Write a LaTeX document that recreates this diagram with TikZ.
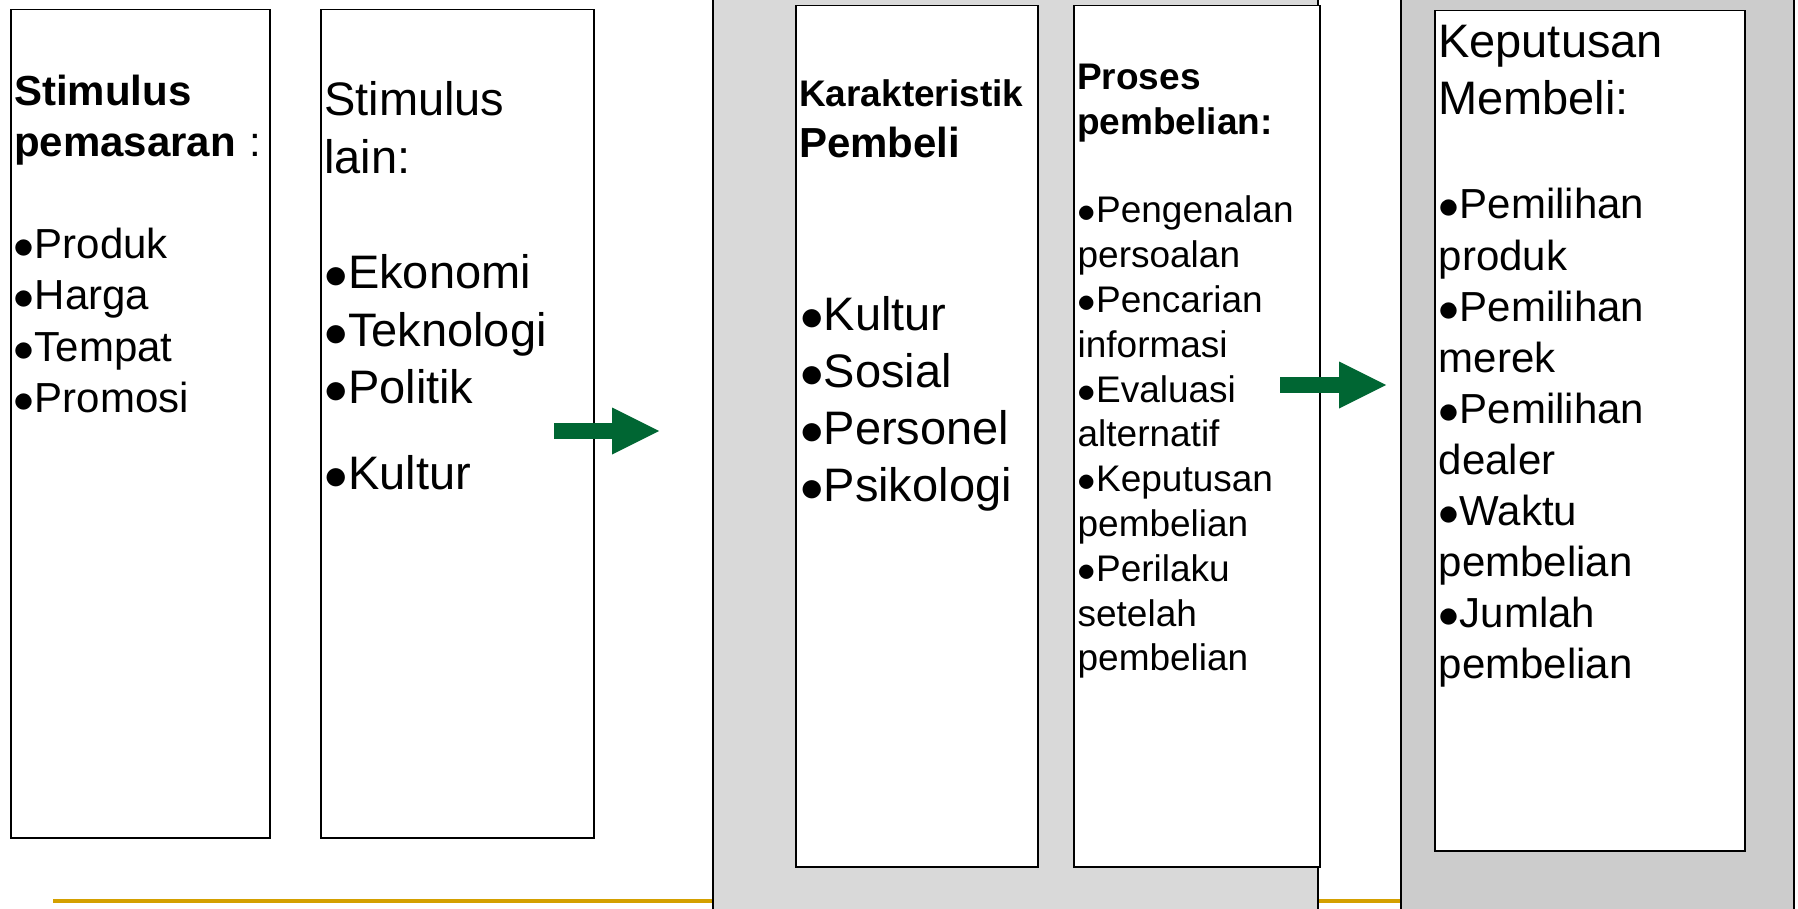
\RequirePackage{fix-cm}
\documentclass[tikz,border=0pt]{standalone}
\usepackage{amsmath,amsfonts,amssymb}
\usepackage{xcolor}
\usepackage{fontspec}
\setmainfont{Liberation Sans}
\usepackage{tikz}
\usetikzlibrary{arrows.meta}

\definecolor{arrowgreen}{RGB}{0,102,51}
\definecolor{linegold}{RGB}{212,160,0}
\definecolor{panelgray}{RGB}{217,217,217}
\definecolor{paneldark}{RGB}{204,204,204}
\newcommand{\bul}{$\bullet$}

\begin{document}
\begin{tikzpicture}[x=1pt, y=-1pt]
% Define styles
\tikzstyle{box} = [rectangle, draw, fill=white, line width=1.5pt, anchor=north west, inner sep=0pt]
\tikzstyle{txt} = [anchor=base west, inner sep=0pt, text width=340pt, align=left]
\tikzstyle{panel} = [draw, line width=1.5pt]
\tikzstyle{flow} = [line width=16pt, arrowgreen, -{Triangle[length=47pt, width=47pt, line width=0pt]}]

\clip (0,0) rectangle (1798,909);

% Base line
\draw [linegold, line width=4pt] (53,901) -- (1401,901);

% Panels
\draw [panel, fill=panelgray] (713,-10) rectangle (1318,920);
\draw [panel, fill=paneldark] (1401,-10) rectangle (1794,920);

% Boxes
\node [box, minimum width=259, minimum height=828] (boxA) at (10,9) {};
\node [box, minimum width=273, minimum height=828] (boxB) at (320,9) {};
\node [box, minimum width=242, minimum height=861] (boxC) at (795,5) {};
\node [box, minimum width=246, minimum height=861] (boxD) at (1073,5) {};
\node [box, minimum width=310, minimum height=840] (boxE) at (1434,10) {};

% Texts
\node [txt, font=\fontsize{42}{51}\selectfont\bfseries] (headA) at (14,105.5) {Stimulus\\pemasaran {\mdseries :}};
\node [txt, font=\fontsize{42}{51.3}\selectfont] (listA) at (13.5,258.5) {\bul Produk\\\bul Harga\\\bul Tempat\\\bul Promosi};

\node [txt, font=\fontsize{47}{57.5}\selectfont] (headB) at (324,116) {Stimulus\\lain:};
\node [txt, font=\fontsize{47}{57.5}\selectfont] (listB) at (324.4,288.5) {\bul Ekonomi\\\bul Teknologi\\\bul Politik\\[28pt]\bul Kultur};

\node [txt, font=\fontsize{42}{51}\selectfont\bfseries] (headC) at (799,107) {{\fontsize{37}{51}\selectfont Karakteristik}\\Pembeli};
\node [txt, font=\fontsize{47}{57.3}\selectfont] (listC) at (800,330) {\bul Kultur\\\bul Sosial\\\bul Personel\\\bul Psikologi};

\node [txt, font=\fontsize{37}{44.5}\selectfont\bfseries] (headD) at (1077,90) {Proses\\pembelian:};
\node [txt, font=\fontsize{37}{44.8}\selectfont] (listD) at (1077.4,223) {\bul Pengenalan\\persoalan\\\bul Pencarian\\informasi\\\bul Evaluasi\\alternatif\\\bul Keputusan\\pembelian\\\bul Perilaku\\setelah\\pembelian};

\node [txt, font=\fontsize{47}{57}\selectfont] (headE) at (1438,58) {Keputusan\\Membeli:};
\node [txt, font=\fontsize{42}{51.1}\selectfont] (listE) at (1438.5,219) {\bul Pemilihan\\produk\\\bul Pemilihan\\merek\\\bul Pemilihan\\dealer\\\bul Waktu\\pembelian\\\bul Jumlah\\pembelian};

% Arrows
\coordinate (flowAs) at (554,431);
\coordinate (flowAe) at (659,431);
\coordinate (flowBs) at (1280,385);
\coordinate (flowBe) at (1386,385);
\draw [flow] (flowAs) -- (flowAe);
\draw [flow] (flowBs) -- (flowBe);

\end{tikzpicture}
\end{document}
